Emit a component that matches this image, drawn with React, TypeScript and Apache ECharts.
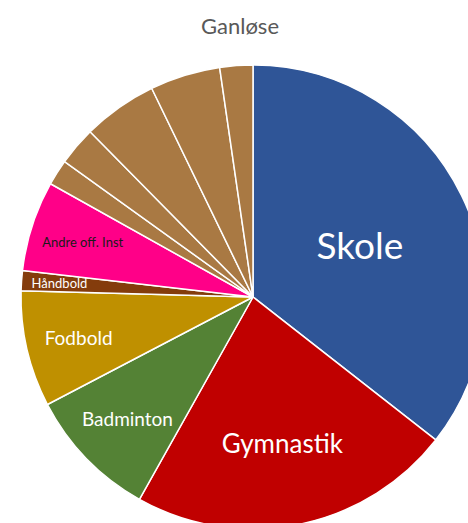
import React, { useEffect, useRef } from "react";
import * as echarts from "echarts";

const title = "Ganløse";
const categories = [
  "Skole", "Gymnastik", "Badminton", "Fodbold", "Håndbold", "Andre off. Inst",
  "Andet 1", "Andet 2", "Andet 3", "Andet 4", "Andet 5",
];
const values = [35.6, 22.6, 9.2, 8.1, 1.4, 6.3, 1.8, 2.7, 5.2, 4.9, 2.3];
const colors = [
  "#2F5597", "#C00000", "#548235", "#BF9000", "#843C0C", "#FF0088",
  "#A97943", "#A97943", "#A97943", "#A97943", "#A97943",
];
// label groups: which labels are drawn at which inner ring
const labelGroups = [
  { inner: 0, names: ["Skole"] },
  { inner: 60, names: ["Gymnastik"] },
  { inner: 120, names: ["Fodbold", "Andre off. Inst"] },
  { inner: 112, names: ["Badminton"] },
  { inner: 150, names: ["Håndbold"] },
];
const labelStyles: Record<string, { size: number; color: string }> = {
  Skole: { size: 37, color: "#ffffff" },
  Gymnastik: { size: 26, color: "#ffffff" },
  Badminton: { size: 19, color: "#ffffff" },
  Fodbold: { size: 19, color: "#ffffff" },
  Håndbold: { size: 13, color: "#ffffff" },
  "Andre off. Inst": { size: 13, color: "#1a1a1a" },
};

const CENTER = [253, 297];
const R = 232;
const FONT = "Lato, 'Open Sans', sans-serif";

export default function App() {
  const ref = useRef<HTMLDivElement>(null);
  useEffect(() => {
    if (!ref.current) return;
    const chart = echarts.init(ref.current, undefined, { renderer: "svg" });
    const mainData = categories.map((name, i) => ({
      name,
      value: values[i],
      itemStyle: { color: colors[i] },
    }));
    const labelSeries = labelGroups.map((g) => ({
      type: "pie",
      radius: [g.inner, R],
      center: CENTER,
      startAngle: 90,
      clockwise: true,
      silent: true,
      z: 5,
      labelLine: { show: false },
      data: categories.map((name, i) => {
        const show = g.names.includes(name);
        const st = labelStyles[name];
        return {
          name,
          value: values[i],
          itemStyle: { color: "transparent", borderWidth: 0 },
          label: show
            ? {
                show: true,
                position: "inside",
                formatter: "{b}",
                fontSize: st.size,
                color: st.color,
                fontFamily: FONT,
                textBorderWidth: 0,
              }
            : { show: false },
        };
      }),
    }));
    chart.setOption({
      animation: false,
      graphic: [
        {
          type: "text",
          x: 240,
          y: 25,
          style: {
            text: title,
            fontSize: 22,
            fill: "#595959",
            fontFamily: FONT,
            textAlign: "center",
            textVerticalAlign: "middle",
          },
        },
      ],
      series: [
        {
          type: "pie",
          radius: [0, R],
          center: CENTER,
          startAngle: 90,
          clockwise: true,
          label: { show: false },
          labelLine: { show: false },
          itemStyle: { borderColor: "#ffffff", borderWidth: 1.5 },
          data: mainData,
        },
        ...labelSeries,
      ],
    });
    return () => chart.dispose();
  }, []);
  return (
    <div
      ref={ref}
      style={{ position: "fixed", left: 0, top: 0, width: 468, height: 523, background: "#fff" }}
    />
  );
}
